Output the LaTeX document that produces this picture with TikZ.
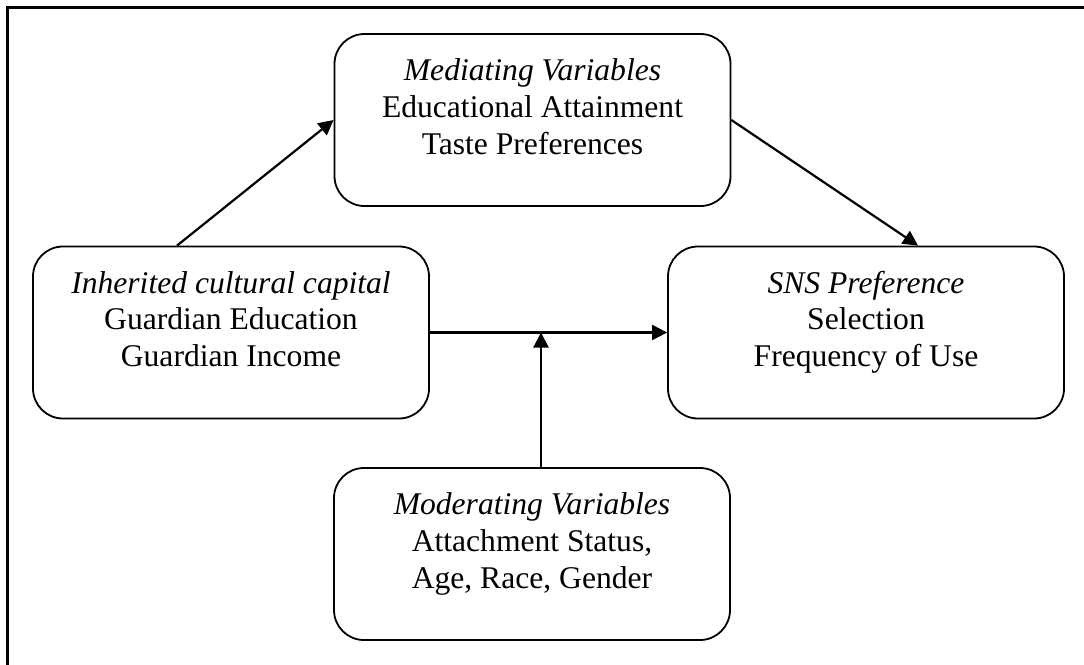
\documentclass[tikz,border=0pt]{standalone}
\usepackage{fontspec}
\setmainfont{Liberation Serif}
\usetikzlibrary{arrows.meta}

\tikzset{
	varbox/.style={draw, line width=0.9pt, rounded corners=15pt, align=center,
		inner sep=0pt, minimum width=198pt, text height=60pt, text depth=26pt,
		font=\fontsize{15.8}{18.3}\selectfont},
	arr/.style={line width=1.1pt, -{Triangle[length=7.5pt,width=7.5pt]}}
}

\begin{document}
\begin{tikzpicture}[x=0.5pt,y=-0.5pt]
					\useasboundingbox (0,0) rectangle (1084,665);
					\clip (0,0) rectangle (1084,665);
					\draw[line width=1.5pt] (7,7) rectangle (1120,720);
					% boxes
					\node[varbox] (med) at (532.5,120) {\textit{Mediating Variables}\\Educational Attainment\\Taste Preferences};
					\node[varbox] (inh) at (231,332.5) {\textit{Inherited cultural capital}\\Guardian Education\\Guardian Income};
					\node[varbox] (sns) at (866,332.5) {\textit{SNS Preference}\\Selection\\Frequency of Use};
					\node[varbox] (mod) at (532,554) {\textit{Moderating Variables}\\Attachment Status,\\Age, Race, Gender};
					% arrows
					\coordinate (join) at ([xshift=4.5pt]mod.north |- inh.east);
					\draw[arr] ([xshift=-27pt]inh.north) -- (med.west);
					\draw[arr] (med.east) -- ([xshift=26pt]sns.north);
					\draw[arr] (inh.east) -- (sns.west);
					\draw[arr] ([xshift=4.5pt]mod.north) -- (join);
				\end{tikzpicture}
\end{document}
